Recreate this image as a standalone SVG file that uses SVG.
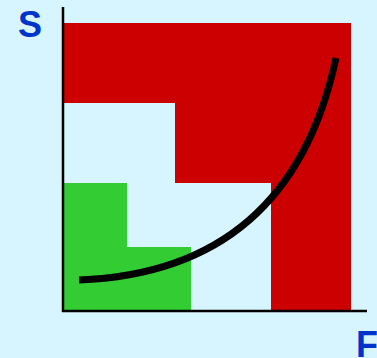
<svg xmlns="http://www.w3.org/2000/svg" width="377" height="358" viewBox="0 0 377 358">
<style>
.lbl{font-family:"Liberation Sans",Arial,sans-serif;font-weight:bold;font-size:36px;fill:#0033cc}
.axis{stroke:#000;stroke-width:2.5;fill:none}
</style>
<rect width="377" height="358" fill="#d7f5fe"/>
<g id="red-region"><path d="M63,23 H351 V311 H271 V183 H175 V103 H63 Z" fill="#cc0000"/></g>
<g id="green-region"><path d="M63,183 H127 V247 H191 V311 H63 Z" fill="#33cc33"/></g>
<g id="axes">
<line class="axis" x1="63" y1="7" x2="63" y2="312"/>
<line class="axis" x1="62" y1="311" x2="367" y2="311"/>
</g>
<g id="curve"><path d="M79,280 Q290,272 336,58" fill="none" stroke="#000" stroke-width="7"/></g>
<g id="labels">
<text class="lbl" x="18" y="37">S</text>
<text class="lbl" x="356" y="357">F</text>
</g>
</svg>
